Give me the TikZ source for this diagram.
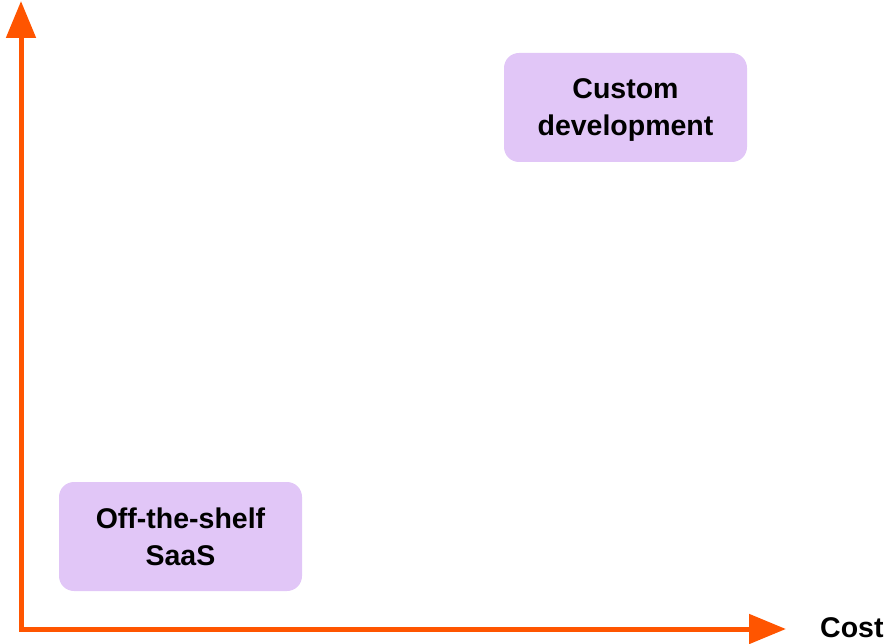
\documentclass[tikz,border=0pt]{standalone}
\usepackage{fontspec}
\setmainfont{Liberation Sans}
\usetikzlibrary{arrows.meta}
\definecolor{axisorange}{HTML}{FF5500}
\definecolor{boxlilac}{HTML}{E1C6F7}
\tikzset{
    axis/.style={draw=axisorange, line width=5pt, line join=miter,
        {Triangle[length=37pt,width=29pt]}-{Triangle[length=37pt,width=29pt]}},
    choice/.style={rounded corners=15pt, fill=boxlilac, minimum width=243pt,
        minimum height=109pt, align=center, text depth=0pt,
        font=\bfseries\fontsize{28.5}{37}\selectfont},
    label/.style={font=\bfseries\fontsize{28.5}{37}\selectfont}
}
\begin{document}
\begin{tikzpicture}[x=1pt, y=-1pt]
        \useasboundingbox (0,0) rectangle (888,644);

        \coordinate (ytip) at (21,1);
        \coordinate (origin) at (21,629);
        \coordinate (xtip) at (786,629);
        \draw[axis] (ytip) -- (origin) -- (xtip);

        \node[choice] (custom) at (625.5,107.5) {Custom\\development};
        \node[choice] (saas) at (180.5,536.5) {Off-the-shelf\\SaaS};
        \node[label, anchor=west, inner sep=0pt] (cost) at (820,628) {Cost};

    \end{tikzpicture}
\end{document}
